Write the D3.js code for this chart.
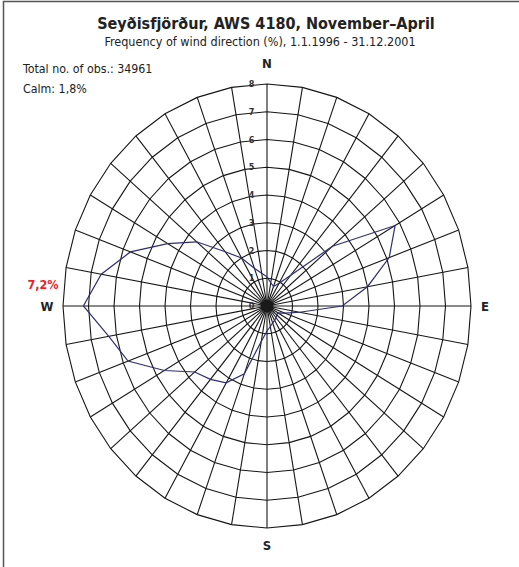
<!DOCTYPE html>
<html>
<head>
<meta charset="utf-8">
<script src="https://cdn.jsdelivr.net/npm/d3@7"></script>
<style>
  html, body { margin: 0; padding: 0; background: #fff; }
  svg { display: block; }
  text { font-family: "DejaVu Sans Condensed", "DejaVu Sans", sans-serif; fill: #222; }
</style>
</head>
<body>
<svg id="chart" width="519" height="567"></svg>
<script>
(function () {
    'use strict';

    // wind direction, degrees from north
    var directions = d3.range(0, 360, 10);
    // frequency (%) for each direction
    var frequency = [
        1.05, 0.85, 0.75, 0.95, 1.45, 3.35, 5.8, 5.1, 4.0, 2.95,
        1.3, 0.75, 0.5, 0.5, 0.55, 0.6, 0.65, 0.75, 0.9, 1.3,
        2.6, 3.2, 3.45, 3.7, 4.65, 5.8, 6.3, 7.2, 6.6, 5.7,
        4.5, 3.6, 2.55, 2.0, 1.45, 1.2
    ];
    var ringTicks = [0, 1, 2, 3, 4, 5, 6, 7, 8];
    var compass = [
        { label: 'N', deg: 0 },
        { label: 'E', deg: 90 },
        { label: 'S', deg: 180 },
        { label: 'W', deg: 270 }
    ];
    var maxLabel = '7,2%';

    var svg = d3.select('#chart');
    var cx = 267, cy = 306;

    // the rose is drawn a little taller than wide
    var rx = d3.scaleLinear().domain([0, 8]).range([0, 204]);
    var ry = d3.scaleLinear().domain([0, 8]).range([0, 222]);
    var angle = d3.scaleLinear().domain([0, 360]).range([0, 2 * Math.PI]);

    var px = function (deg, v) { return cx + Math.sin(angle(deg)) * rx(v); };
    var py = function (deg, v) { return cy - Math.cos(angle(deg)) * ry(v); };

    // frame (only top and left edges are inside the picture)
    svg.append('rect')
        .attr('x', 3.5).attr('y', 1.5)
        .attr('width', 700).attr('height', 700)
        .attr('fill', 'none')
        .attr('stroke', '#555')
        .attr('stroke-width', 1.5);

    svg.append('text')
        .attr('x', 266).attr('y', 29)
        .attr('text-anchor', 'middle')
        .style('font-size', '16px')
        .style('font-weight', 'bold')
        .text('Seyðisfjörður, AWS 4180, November–April');

    svg.append('text')
        .attr('x', 260).attr('y', 46)
        .attr('text-anchor', 'middle')
        .style('font-size', '12.5px')
        .text('Frequency of wind direction (%), 1.1.1996 - 31.12.2001');

    svg.append('text')
        .attr('x', 23).attr('y', 73)
        .style('font-size', '12.3px')
        .text('Total no. of obs.: 34961');

    svg.append('text')
        .attr('x', 23).attr('y', 93)
        .style('font-size', '12.3px')
        .text('Calm: 1,8%');

    var grid = svg.append('g').attr('class', 'grid');

    var ringLine = d3.line()
        .x(function (d) { return px(d.deg, d.v); })
        .y(function (d) { return py(d.deg, d.v); })
        .curve(d3.curveLinearClosed);

    grid.selectAll('.ring')
        .data(ringTicks.filter(function (t) { return t > 0; }))
        .enter()
        .append('path')
        .attr('class', 'ring')
        .attr('d', function (t) {
            return ringLine(directions.map(function (deg) { return { deg: deg, v: t }; }));
        })
        .attr('fill', 'none')
        .attr('stroke', '#161616')
        .attr('stroke-width', 1.1);

    grid.selectAll('.spoke')
        .data(directions)
        .enter()
        .append('line')
        .attr('class', 'spoke')
        .attr('x1', cx).attr('y1', cy)
        .attr('x2', function (d) { return px(d, 8); })
        .attr('y2', function (d) { return py(d, 8); })
        .attr('stroke', '#161616')
        .attr('stroke-width', 1.1);

    grid.append('circle')
        .attr('cx', cx).attr('cy', cy)
        .attr('r', 6.5)
        .attr('fill', '#1a1a1a');

    grid.selectAll('.tick')
        .data(ringTicks)
        .enter()
        .append('text')
        .attr('class', 'tick')
        .attr('x', cx - 15.5)
        .attr('y', function (t) { return py(0, t); })
        .attr('dy', '0.35em')
        .attr('text-anchor', 'middle')
        .style('font-size', '9px')
        .style('font-weight', 'bold')
        .style('fill', '#333')
        .text(function (t) { return t; });

    var roseLine = d3.line()
        .x(function (d, i) { return px(directions[i], d); })
        .y(function (d, i) { return py(directions[i], d); })
        .curve(d3.curveLinearClosed);

    svg.append('path')
        .datum(frequency)
        .attr('d', roseLine)
        .attr('fill', 'none')
        .attr('stroke', '#2e2e78')
        .attr('stroke-width', 1.2);

    var offsets = { N: [0, -21], E: [14, 0], S: [0, 17], W: [-16, 0] };
    svg.selectAll('.compass')
        .data(compass)
        .enter()
        .append('text')
        .attr('class', 'compass')
        .attr('x', function (d) { return px(d.deg, 8) + offsets[d.label][0]; })
        .attr('y', function (d) { return py(d.deg, 8) + offsets[d.label][1]; })
        .attr('dy', '0.36em')
        .attr('text-anchor', 'middle')
        .style('font-size', '13px')
        .style('font-weight', 'bold')
        .text(function (d) { return d.label; });

    svg.append('text')
        .attr('x', 43).attr('y', py(270, 0) - 22)
        .attr('dy', '0.36em')
        .attr('text-anchor', 'middle')
        .style('font-size', '12.5px')
        .style('font-weight', 'bold')
        .style('fill', '#e8222a')
        .text(maxLabel);
}());
</script>
</body>
</html>
